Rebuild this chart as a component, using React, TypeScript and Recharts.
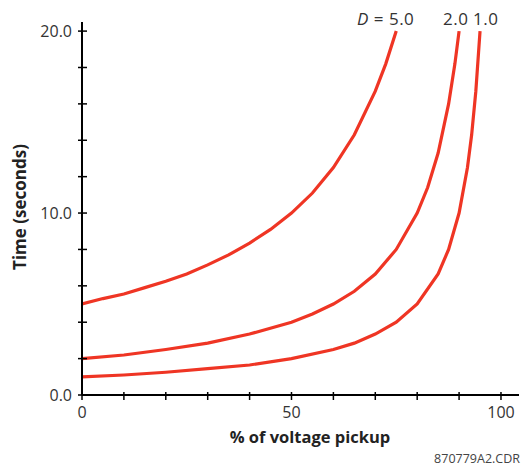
import { CartesianGrid, Customized, Line, LineChart, XAxis, YAxis } from "recharts";

// % of voltage pickup vs time (s)
const curveD5 = [
  { x: 0, t: 5.0 }, { x: 5, t: 5.3 }, { x: 10, t: 5.55 }, { x: 15, t: 5.9 },
  { x: 20, t: 6.25 }, { x: 25, t: 6.65 }, { x: 30, t: 7.15 }, { x: 35, t: 7.7 },
  { x: 40, t: 8.35 }, { x: 45, t: 9.1 }, { x: 50, t: 10.0 }, { x: 55, t: 11.1 },
  { x: 60, t: 12.5 }, { x: 65, t: 14.3 }, { x: 70, t: 16.7 }, { x: 72.5, t: 18.2 },
  { x: 75, t: 20.0 },
];
const curveD2 = [
  { x: 0, t: 2.0 }, { x: 10, t: 2.2 }, { x: 20, t: 2.5 }, { x: 30, t: 2.85 },
  { x: 40, t: 3.35 }, { x: 50, t: 4.0 }, { x: 55, t: 4.45 }, { x: 60, t: 5.0 },
  { x: 65, t: 5.7 }, { x: 70, t: 6.65 }, { x: 75, t: 8.0 }, { x: 80, t: 10.0 },
  { x: 82.5, t: 11.4 }, { x: 85, t: 13.3 }, { x: 87.5, t: 16.0 }, { x: 89, t: 18.2 },
  { x: 90, t: 20.0 },
];
const curveD1 = [
  { x: 0, t: 1.0 }, { x: 10, t: 1.1 }, { x: 20, t: 1.25 }, { x: 30, t: 1.45 },
  { x: 40, t: 1.65 }, { x: 50, t: 2.0 }, { x: 60, t: 2.5 }, { x: 65, t: 2.85 },
  { x: 70, t: 3.35 }, { x: 75, t: 4.0 }, { x: 80, t: 5.0 }, { x: 85, t: 6.65 },
  { x: 87.5, t: 8.0 }, { x: 90, t: 10.0 }, { x: 92, t: 12.5 }, { x: 93, t: 14.3 },
  { x: 94, t: 16.7 }, { x: 95, t: 20.0 },
];

const xTicks = [0, 10, 20, 30, 40, 50, 60, 70, 80, 90, 100];
const xLabels = [0, 50, 100];
const yTicks = [0, 2, 4, 6, 8, 10, 12, 14, 16, 18, 20];
const yLabels = [0, 10, 20];

const RED = "#ef3524";
const FONT = "'Open Sans', 'Noto Sans', sans-serif";

const XTick = ({ x, y, payload }: any) => (
  <g>
    <line x1={x} x2={x} y1={y - 3} y2={y + 5} stroke="#000" strokeWidth={1.5} />
    {xLabels.includes(payload.value) && (
      <text x={x} y={y + 23} textAnchor="middle" fontSize={16} fill="#333" fontFamily={FONT}>
        {payload.value}
      </text>
    )}
  </g>
);

const YTick = ({ x, y, payload }: any) => (
  <g>
    <line x1={x - 4} x2={x + 5} y1={y} y2={y} stroke="#000" strokeWidth={1.5} />
    {yLabels.includes(payload.value) && (
      <text x={x - 10} y={y + 6} textAnchor="end" fontSize={16} fill="#333" fontFamily={FONT}>
        {payload.value.toFixed(1)}
      </text>
    )}
  </g>
);

const Annotations = () => (
  <g fontFamily={FONT} fill="#333">
    <text x={357} y={25} fontSize={17} letterSpacing={0.5}>
      <tspan fontStyle="italic">D</tspan> = 5.0
    </text>
    <text x={443} y={25} fontSize={17} letterSpacing={0.5}>2.0</text>
    <text x={473} y={25} fontSize={17} letterSpacing={0.5}>1.0</text>
    <text x={310} y={443} fontSize={16.5} fontWeight="bold" fill="#222" textAnchor="middle">
      % of voltage pickup
    </text>
    <text
      x={26}
      y={207}
      fontSize={17}
      fontWeight="bold"
      fill="#222"
      textAnchor="middle"
      transform="rotate(-90 26 207)"
    >
      Time (seconds)
    </text>
    <text x={520} y={463} fontSize={12.5} textAnchor="end" fill="#444">
      870779A2.CDR
    </text>
  </g>
);

export default function App() {
  return (
    <div style={{ position: "absolute", left: 0, top: 0, background: "#fff" }}>
      <LineChart width={521} height={468} margin={{ top: 22, right: 2, left: 8, bottom: 43 }}>
        <CartesianGrid stroke="none" />
        <XAxis
          type="number"
          dataKey="x"
          domain={[0, 104.3]}
          ticks={xTicks}
          tick={<XTick />}
          tickLine={false}
          tickSize={0}
          tickMargin={0}
          height={30}
          axisLine={{ stroke: "#000", strokeWidth: 2 }}
          allowDataOverflow
        />
        <YAxis
          type="number"
          domain={[0, 20.5]}
          ticks={yTicks}
          tick={<YTick />}
          tickLine={false}
          tickSize={0}
          tickMargin={0}
          width={74}
          axisLine={{ stroke: "#000", strokeWidth: 2 }}
          allowDataOverflow
        />
        <Line data={curveD5} dataKey="t" type="linear" stroke={RED} strokeWidth={3.2} dot={false} isAnimationActive={false} />
        <Line data={curveD2} dataKey="t" type="linear" stroke={RED} strokeWidth={3.2} dot={false} isAnimationActive={false} />
        <Line data={curveD1} dataKey="t" type="linear" stroke={RED} strokeWidth={3.2} dot={false} isAnimationActive={false} />
        <Customized component={Annotations} />
      </LineChart>
    </div>
  );
}
